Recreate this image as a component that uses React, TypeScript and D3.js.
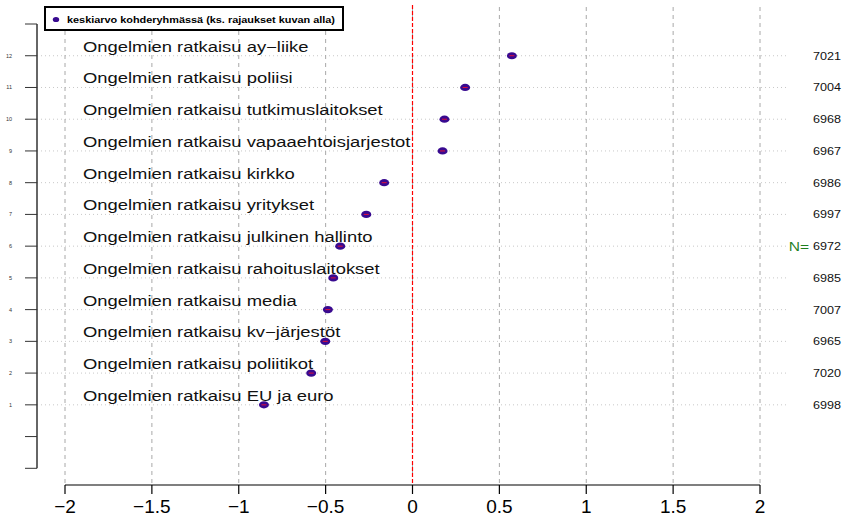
import React from "react";
import * as d3 from "d3";

const categories = [
  "Ongelmien ratkaisu EU ja euro",
  "Ongelmien ratkaisu poliitikot",
  "Ongelmien ratkaisu kv\u2212järjestöt",
  "Ongelmien ratkaisu media",
  "Ongelmien ratkaisu rahoituslaitokset",
  "Ongelmien ratkaisu julkinen hallinto",
  "Ongelmien ratkaisu yritykset",
  "Ongelmien ratkaisu kirkko",
  "Ongelmien ratkaisu vapaaehtoisjarjestot",
  "Ongelmien ratkaisu tutkimuslaitokset",
  "Ongelmien ratkaisu poliisi",
  "Ongelmien ratkaisu ay\u2212liike",
];
const means = [-0.855, -0.583, -0.502, -0.487, -0.456, -0.416, -0.266, -0.163, 0.173, 0.184, 0.303, 0.572];
const nValues = [6998, 7020, 6965, 7007, 6985, 6972, 6997, 6986, 6967, 6968, 7004, 7021];
const xTicks = [-2, -1.5, -1, -0.5, 0, 0.5, 1, 1.5, 2];
const yTicks = [-1, 0, 1, 2, 3, 4, 5, 6, 7, 8, 9, 10, 11, 12, 13];
const legendLabel = "keskiarvo kohderyhmässä (ks. rajaukset kuvan alla)";

const W = 843;
const H = 517;

export default function App() {
  const x = d3.scaleLinear().domain([-2, 2]).range([65, 760]);
  const y = d3.scaleLinear().domain([-1, 13]).range([468.3, 24]);
  const fmt = (v: number) => String(v).replace("-", "\u2212");
  const axisX = 37;
  const xAxisY = 485;
  const font = "Liberation Sans, Arial, Helvetica, sans-serif";
  const purple = "#380a90";
  const rows = d3.range(1, 13);

  return (
    <div style={{ position: "absolute", left: 0, top: 0 }}>
      <svg width={W} height={H} style={{ display: "block", background: "#fff" }} fontFamily={font}>
        {/* horizontal dotted grid */}
        {rows.map((r) => (
          <line key={"hg" + r} x1={axisX} x2={787} y1={y(r)} y2={y(r)} stroke="#c8c8c8" strokeWidth={1} strokeDasharray="1,3" />
        ))}
        {/* vertical dashed grid */}
        {xTicks.map((t) => (
          <line key={"vg" + t} x1={x(t)} x2={x(t)} y1={7} y2={xAxisY} stroke="#a8a8a8" strokeWidth={1} strokeDasharray="4,4" />
        ))}
        {/* red zero line */}
        <line x1={x(0)} x2={x(0)} y1={5} y2={xAxisY} stroke="#ff0000" strokeWidth={1.2} strokeDasharray="4,2" />

        {/* y axis */}
        <line x1={axisX} x2={axisX} y1={y(13)} y2={y(-1)} stroke="#333" strokeWidth={1.5} />
        {yTicks.map((t) => (
          <g key={"yt" + t}>
            <line x1={25} x2={axisX} y1={y(t)} y2={y(t)} stroke="#333" strokeWidth={1} />
            {t >= 1 && t <= 12 && (
              <text x={12} y={y(t)} fontSize={5.5} textAnchor="end" dominantBaseline="central" fill="#333">
                {t}
              </text>
            )}
          </g>
        ))}

        {/* x axis */}
        <line x1={x(-2)} x2={x(2)} y1={xAxisY} y2={xAxisY} stroke="#000" strokeWidth={1.2} />
        {xTicks.map((t) => (
          <g key={"xt" + t}>
            <line x1={x(t)} x2={x(t)} y1={xAxisY} y2={xAxisY + 9} stroke="#000" strokeWidth={1.2} />
            <text x={x(t)} y={513} fontSize={19} textAnchor="middle" fill="#000">
              {fmt(t)}
            </text>
          </g>
        ))}

        {/* category labels */}
        {categories.map((c, i) => (
          <text
            key={"cl" + i}
            transform={`translate(83,${y(i + 1) - 4}) scale(1.27,1)`}
            fontSize={14.5}
            fill="#111"
          >
            {c}
          </text>
        ))}

        {/* points */}
        {means.map((m, i) => (
          <g key={"pt" + i}>
            <ellipse cx={x(m)} cy={y(i + 1)} rx={5} ry={3.6} fill={purple} />
            <line x1={x(m) - 2.5} x2={x(m) + 2.5} y1={y(i + 1)} y2={y(i + 1)} stroke="#e0103a" strokeWidth={1} />
          </g>
        ))}

        {/* N values */}
        {nValues.map((n, i) => (
          <text
            key={"n" + i}
            transform={`translate(841,${y(i + 1) + 4}) scale(1.2,1)`}
            fontSize={10.5}
            textAnchor="end"
            fill="#111"
          >
            {n}
          </text>
        ))}
        <text transform={`translate(809,${y(6) + 5}) scale(1.2,1)`} fontSize={13} textAnchor="end" fill="#1f7f1f">
          N=
        </text>

        {/* legend */}
        <rect x={45} y={7} width={298} height={23} fill="#fff" stroke="#000" strokeWidth={2} />
        <ellipse cx={56} cy={19.5} rx={3.2} ry={2.6} fill={purple} />
        <text x={67} y={23} fontSize={9} fontWeight="bold" fill="#000" textLength={268} lengthAdjust="spacingAndGlyphs">
          {legendLabel}
        </text>
      </svg>
    </div>
  );
}
